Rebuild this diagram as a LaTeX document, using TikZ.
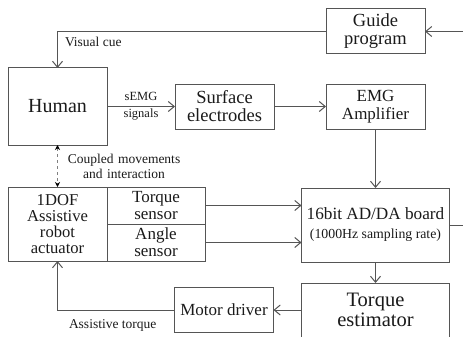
\documentclass[tikz,border=0pt]{standalone}
\usepackage{fontspec}
\setmainfont{Liberation Serif}
\usetikzlibrary{arrows.meta, positioning}

\definecolor{linegray}{HTML}{555555}
\definecolor{textgray}{HTML}{1A1A1A}

\tikzset{
  block/.style={draw=linegray, line width=1pt, text=textgray, align=center, inner sep=0pt, outer sep=0pt,
    minimum width=99pt, minimum height=45pt},
  lbl/.style={text=textgray, font=\fontsize{13.5}{15}\selectfont, align=center, inner sep=1pt},
  sig/.style={draw=linegray, line width=1pt, -{Straight Barb[length=6pt,width=10pt]}},
}

\begin{document}
\begin{tikzpicture}[x=1pt,y=-1pt,node distance=3cm,on grid]
	\useasboundingbox (0,0) rectangle (463,337);

	\node (human) [block, minimum height=77pt, font=\fontsize{20}{22}\selectfont] at (57.5,106.5) {Human};
	\node (surf) [block, right=167pt of human, font=\fontsize{18.5}{18}\selectfont] {Surface\\electrodes};
	\node (emg) [block, right=151pt of surf, font=\fontsize{17}{17.5}\selectfont] {EMG\\Amplifier};
	\node (guide) [block, above=75pt of emg, font=\fontsize{18.5}{18}\selectfont] {Guide\\program};

	\node (act) [block, below=117.5pt of human, minimum height=74pt, font=\fontsize{16.6}{16.2}\selectfont] {1DOF\\Assistive\\robot\\actuator};
	\node (tsens) [block, anchor=north west, minimum width=98pt, minimum height=37pt, font=\fontsize{17}{17}\selectfont] at (act.north east) {Torque\\sensor};
	\node (asens) [block, anchor=north west, minimum width=98pt, minimum height=37pt, font=\fontsize{17}{17}\selectfont] at (tsens.south west) {Angle\\sensor};

	\node (board) [block, below=118.5pt of emg, minimum width=148pt, minimum height=74pt, font=\fontsize{17.2}{19}\selectfont] {16bit AD/DA board\\{\fontsize{13.8}{15}\selectfont (1000Hz sampling rate)}};
	\node (est) [block, below=85pt of board, minimum width=148pt, minimum height=54pt, font=\fontsize{20.5}{20.5}\selectfont] {Torque\\estimator};
	\node (motor) [block, left=151.5pt of est, font=\fontsize{17}{17}\selectfont] {Motor driver};

	\coordinate (gin) at ([xshift=38pt]guide.east);
	\coordinate (bout) at ([xshift=13pt]board.east);

	% signal flow
	\draw [sig] (gin) -- (guide.east);
	\draw [sig] (guide.west) -| node [lbl, anchor=north west, xshift=6pt, yshift=-4pt] {Visual cue} (human.north);
	\draw [sig] (human.east) -- node [lbl, font=\fontsize{12.5}{17}\selectfont] {sEMG\\signals} (surf.west);
	\draw [sig] (surf.east) -- (emg.west);
	\draw [sig] (emg.south) -- (board.north);
	\draw [draw=gray, line width=1pt, dashed, {Stealth[length=5pt,width=5pt,color=black]}-{Stealth[length=5pt,width=5pt,color=black]}]
		(human.south) -- node [lbl, anchor=west, xshift=5pt, text width=120pt] {Coupled movements\\and interaction} (act.north);
	\draw [sig] (tsens.east) -- (board.west |- tsens.east);
	\draw [sig] (asens.east) -- (board.west |- asens.east);
	\draw [draw=linegray, line width=1pt] (board.east) -- (bout);
	\draw [sig] (board.south) -- (est.north);
	\draw [sig] (est.west) -- (motor.east);
	\draw [sig] (motor.west) -| node [lbl, anchor=north west, xshift=10pt, yshift=-8pt] {Assistive torque} (act.south);
\end{tikzpicture}
\end{document}
